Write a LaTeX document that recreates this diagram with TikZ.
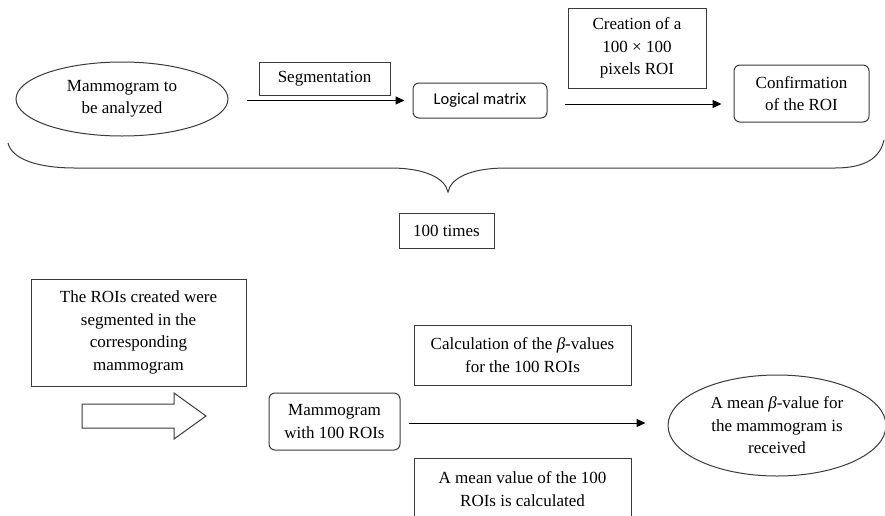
\documentclass[tikz,border=0pt]{standalone}
\usepackage{fontspec}
\setmainfont{Liberation Serif}
\newfontfamily\calibfont{Carlito}
\usetikzlibrary{arrows.meta,shapes.geometric}
\newcommand\myfs{\fontsize{17}{22.5}\selectfont}
\definecolor{linec}{HTML}{3A3A3A}
\begin{document}
\begin{tikzpicture}[x=1pt,y=-1pt,line width=1pt,
  box/.style={draw=linec,rectangle,inner sep=0pt,align=center,font=\myfs},
  rbox/.style={box,rounded corners=6pt},
  ell/.style={draw=linec,ellipse,inner sep=0pt,align=center,font=\myfs},
  arr/.style={draw=black,-{Triangle[length=9pt,width=8pt]}}]
\useasboundingbox (0,0) rectangle (885,515);
\clip (0,0) rectangle (885,515);

% top row
\node[ell,minimum width=212pt,minimum height=74pt] (e1) at (122,99) {Mammogram to\\be analyzed};
\node[box,minimum width=131pt,minimum height=33pt] (seg) at (324.5,78.5) {Segmentation};
\node[rbox,minimum width=134pt,minimum height=35pt,font=\calibfont\fontsize{16.5}{20}\selectfont] (logic) at (480,100.5) {Logical matrix};
\node[box,minimum width=138pt,minimum height=80pt] (crea) at (637,48) {Creation of a\\100 × 100\\pixels ROI};
\node[rbox,minimum width=135pt,minimum height=57pt] (conf) at (801.5,93.5) {Confirmation\\of the ROI};

\draw[arr,shorten <=18pt,shorten >=8pt] (e1.east |- logic.west) -- (logic.west);
\draw[arr,shorten <=17pt,shorten >=12pt] ([yshift=-3.5pt]logic.east) -- ([yshift=-3.5pt]logic.east -| conf.west);

% brace
\draw[draw=linec] (8,143) .. controls (12,160) and (40,168) .. (75,168) -- (390,168)
  .. controls (425,168) and (445,178) .. (448,192)
  .. controls (451,178) and (470,168) .. (507,168) -- (835,168)
  .. controls (865,168) and (880,158) .. (884,140);

\node[box,minimum width=95pt,minimum height=35pt] (times) at (446.5,230.5) {100 times};

% bottom row
\node[box,minimum width=215pt,minimum height=107pt] (rois) at (138.5,332.5) {The ROIs created were\\segmented in the\\corresponding\\mammogram};
\draw[draw=linec] (82,404) -- (174,404) -- (174,393) -- (206,416) -- (174,439) -- (174,428) -- (82,428) -- cycle;

\node[rbox,minimum width=131pt,minimum height=57pt] (m100) at (334.5,421.5) {Mammogram\\with 100 ROIs};
\node[box,minimum width=217pt,minimum height=60pt] (calc) at (522.5,355) {Calculation of the {\itshape β}-values\\for the 100 ROIs};
\node[box,minimum width=217pt,minimum height=62pt] (mean) at (522.5,489) {A mean value of the 100\\ROIs is calculated};
\node[ell,minimum width=218pt,minimum height=101pt] (e2) at (777,425.5) {A mean {\itshape β}-value for\\the mammogram is\\received};

\draw[arr,shorten <=8pt,shorten >=22pt] ([yshift=-1.5pt]m100.east) -- ([yshift=-1.5pt]m100.east -| e2.west);
\end{tikzpicture}
\end{document}
